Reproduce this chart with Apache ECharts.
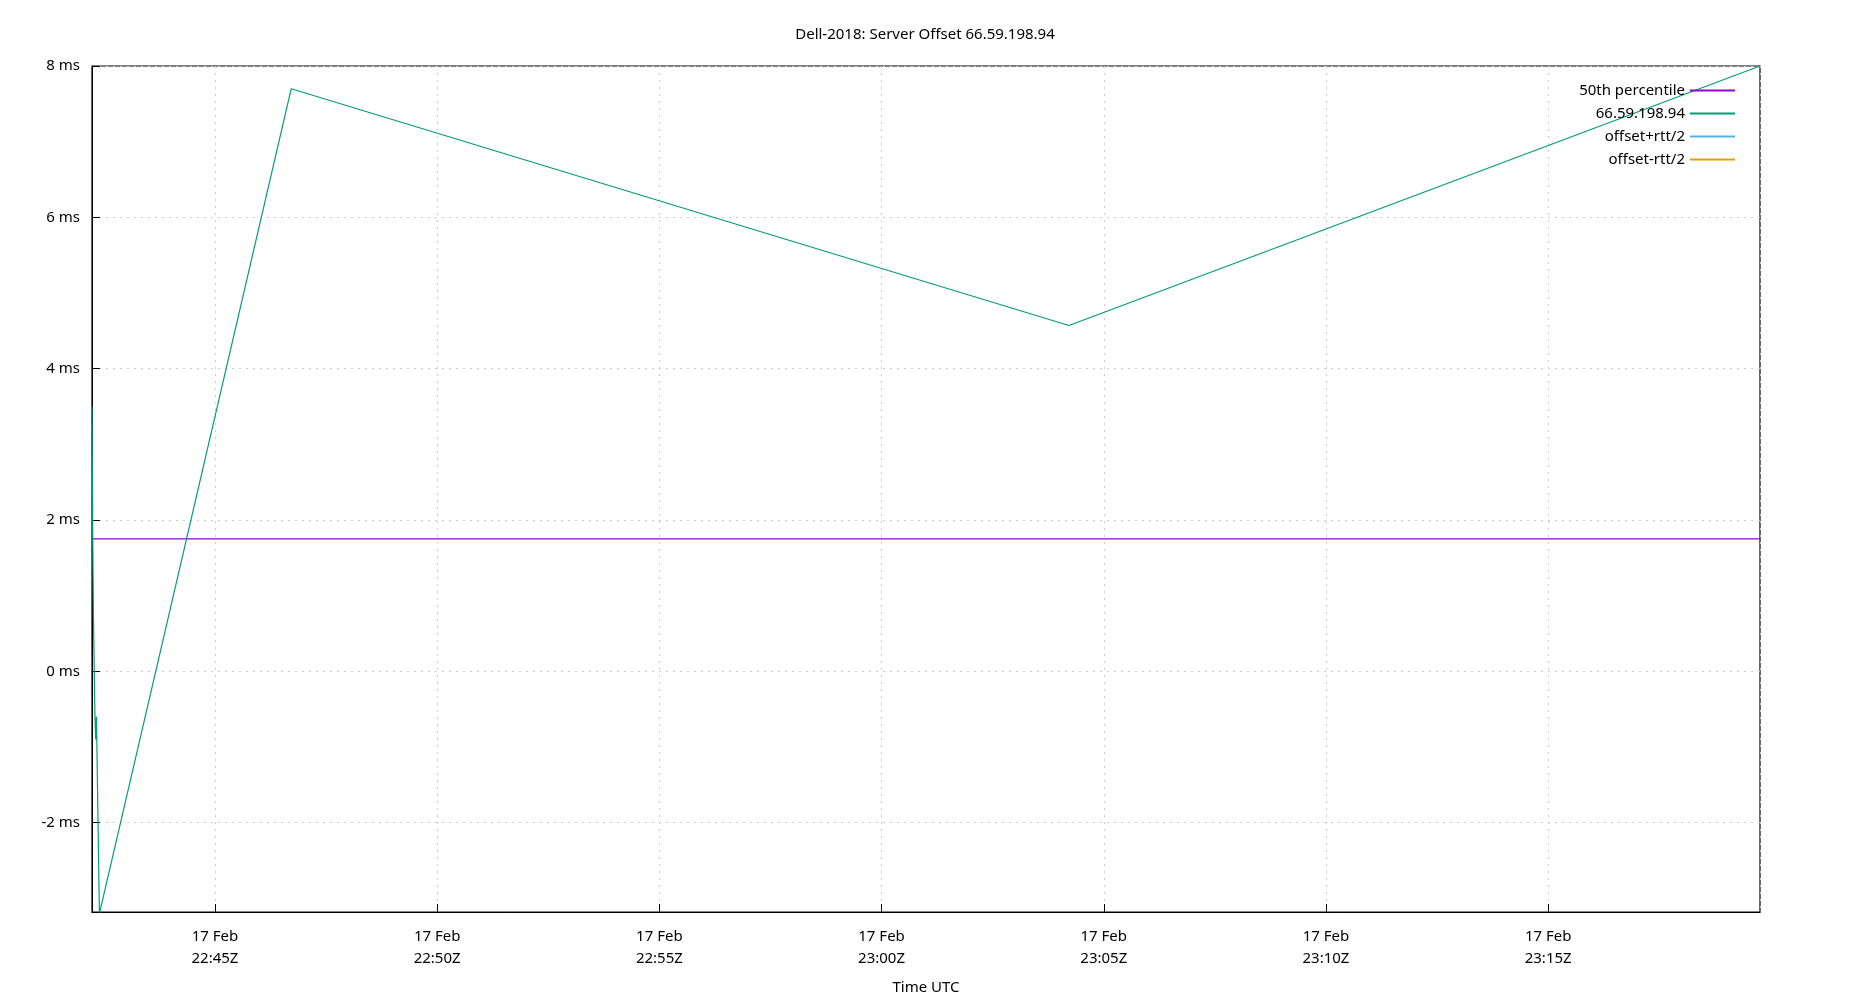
<!DOCTYPE html><html><head><meta charset="utf-8"><script src="https://cdn.jsdelivr.net/npm/echarts@6/dist/echarts.min.js"></script></head><body style="margin:0"><div id="c" style="width:1850px;height:1000px"></div><script>
const times=['2024-02-17T22:42:14Z','2024-02-17T22:42:15Z','2024-02-17T22:42:16Z','2024-02-17T22:42:18Z','2024-02-17T22:42:19Z','2024-02-17T22:42:20Z','2024-02-17T22:42:24Z','2024-02-17T22:46:43Z','2024-02-17T23:04:13Z','2024-02-17T23:19:46Z'];
const offsets=[3.5,1.75,0.7,-0.6,-0.9,-0.6,-3.2,7.7,4.57,8.0];
const p50=1.75;
const yTicks=[-2,0,2,4,6,8];
const xMin='2024-02-17T22:42:14Z', xMax='2024-02-17T23:19:46Z';
const ch=echarts.init(document.getElementById('c'));
const font='Noto Sans';
const pad=n=>String(n).padStart(2,'0');
ch.setOption({
 animation:false,textStyle:{fontFamily:font},
 title:{text:'Dell-2018: Server Offset 66.59.198.94',left:'center',top:22,textStyle:{fontSize:15,fontWeight:'normal',color:'#000'}},
 legend:{right:110,top:78,orient:'vertical',align:'right',itemWidth:45,itemHeight:2,itemGap:8,icon:'rect',textStyle:{fontSize:15,color:'#000'},
  data:['50th percentile','66.59.198.94','offset+rtt/2','offset-rtt/2']},
 grid:{left:92,right:90,top:66,bottom:87,show:true,borderColor:'#000',borderWidth:1.2},
 xAxis:{type:'time',min:xMin,max:xMax,interval:300000,name:'Time UTC',nameLocation:'middle',nameGap:68,nameTextStyle:{fontSize:15,color:'#000'},
  axisLine:{onZero:false,lineStyle:{color:'#000'}},axisTick:{inside:true,length:8,lineStyle:{color:'#000'}},
  splitLine:{show:true,lineStyle:{color:'#ccc',type:[2,5]}},
  axisLabel:{showMinLabel:false,showMaxLabel:false,fontSize:15,color:'#000',margin:14,lineHeight:22,
   formatter:v=>{const d=new Date(v);return '17 Feb\n'+pad(d.getUTCHours())+':'+pad(d.getUTCMinutes())+'Z';}}},
 yAxis:{type:'value',min:-3.18,max:8,
  axisLine:{show:true,lineStyle:{color:'#000'}},axisTick:{show:true,inside:true,length:8,customValues:yTicks,lineStyle:{color:'#000'}},
  splitLine:{show:true,lineStyle:{color:'#ccc',type:[2,5]}},
  axisLabel:{fontSize:15,color:'#000',margin:12,customValues:yTicks,formatter:v=>v+' ms'}},
 series:[
  {name:'50th percentile',type:'line',symbol:'none',color:'#9400d3',lineStyle:{width:1.2},data:[[xMin,p50],[xMax,p50]]},
  {name:'66.59.198.94',type:'line',symbol:'none',color:'#009e73',lineStyle:{width:1.2},data:times.map((t,i)=>[t,offsets[i]])},
  {name:'offset+rtt/2',type:'line',symbol:'none',color:'#56b4e9',data:[]},
  {name:'offset-rtt/2',type:'line',symbol:'none',color:'#e69f00',data:[]}
 ]});
</script></body></html>
